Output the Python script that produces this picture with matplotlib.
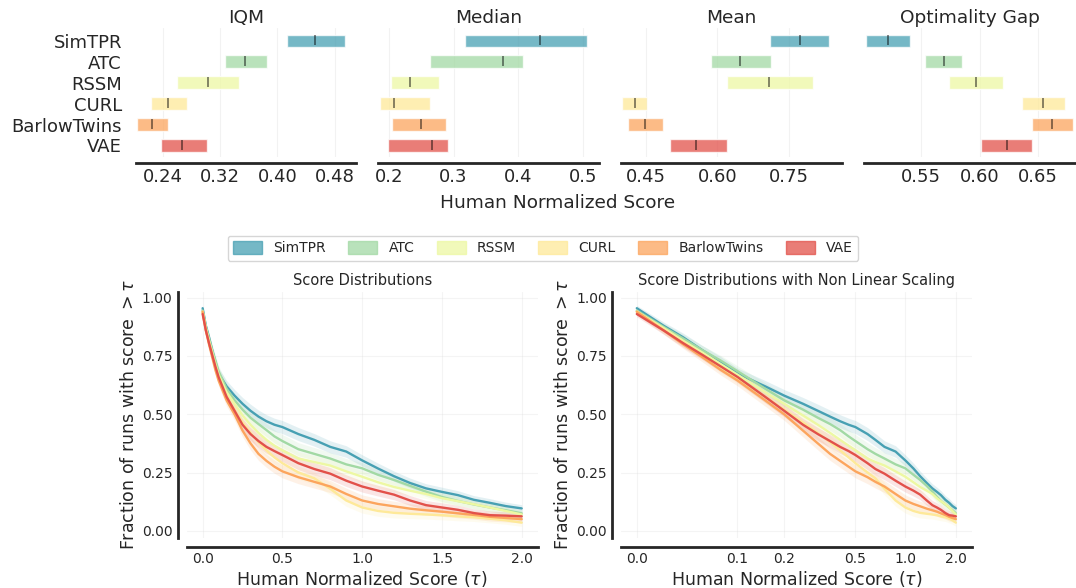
import numpy as np
import matplotlib
matplotlib.use("Agg")
import matplotlib.pyplot as plt
import matplotlib.patches as mpatches
from matplotlib.ticker import FormatStrFormatter
import seaborn as sns

sns.set_style("white")
plt.rcParams['font.family'] = ['DejaVu Sans']

algos = ['SimTPR', 'ATC', 'RSSM', 'CURL', 'BarlowTwins', 'VAE']
colors = sns.color_palette('Spectral', 6)[::-1]

# interval estimates (lower, upper, point)
iqm_lo = [0.413, 0.327, 0.260, 0.223, 0.203, 0.237]
iqm_hi = [0.494, 0.385, 0.346, 0.274, 0.247, 0.302]
iqm_pt = [0.453, 0.354, 0.303, 0.247, 0.225, 0.267]
med_lo = [0.317, 0.263, 0.203, 0.186, 0.205, 0.198]
med_hi = [0.506, 0.408, 0.277, 0.263, 0.288, 0.292]
med_pt = [0.434, 0.376, 0.232, 0.207, 0.249, 0.266]
mean_lo = [0.710, 0.587, 0.620, 0.401, 0.412, 0.501]
mean_hi = [0.834, 0.713, 0.800, 0.453, 0.486, 0.619]
mean_pt = [0.772, 0.647, 0.707, 0.427, 0.449, 0.556]
og_lo = [0.5037, 0.5537, 0.5742, 0.6358, 0.6443, 0.6009]
og_hi = [0.5412, 0.5853, 0.6202, 0.6724, 0.6798, 0.6446]
og_pt = [0.5225, 0.5699, 0.5966, 0.6543, 0.6619, 0.6230]

# score distributions (fraction of runs with score > tau)
tau = [0, 0.02, 0.04, 0.06, 0.08, 0.1, 0.15, 0.2, 0.25, 0.3, 0.35, 0.4, 0.45, 0.5,
       0.6, 0.7, 0.8, 0.9, 1.0, 1.1, 1.2, 1.3, 1.4, 1.5, 1.6, 1.7, 1.8, 1.9, 2.0]
prof_simtpr = [0.955, 0.88, 0.83, 0.775, 0.725, 0.675, 0.62, 0.58, 0.545, 0.515, 0.49, 0.47, 0.455, 0.445,
               0.415, 0.39, 0.36, 0.34, 0.302, 0.267, 0.234, 0.205, 0.182, 0.167, 0.153, 0.133, 0.12, 0.106, 0.096]
prof_atc = [0.945, 0.875, 0.825, 0.775, 0.73, 0.685, 0.61, 0.56, 0.52, 0.485, 0.458, 0.432, 0.405, 0.385,
            0.35, 0.33, 0.31, 0.285, 0.268, 0.24, 0.218, 0.193, 0.168, 0.145, 0.128, 0.113, 0.1, 0.088, 0.075]
prof_rssm = [0.94, 0.87, 0.815, 0.765, 0.715, 0.67, 0.595, 0.545, 0.495, 0.455, 0.42, 0.39, 0.365, 0.345,
             0.31, 0.295, 0.28, 0.255, 0.232, 0.208, 0.188, 0.172, 0.158, 0.14, 0.127, 0.114, 0.1, 0.085, 0.07]
prof_curl = [0.94, 0.865, 0.81, 0.755, 0.7, 0.655, 0.575, 0.52, 0.465, 0.42, 0.38, 0.345, 0.315, 0.29,
             0.25, 0.225, 0.18, 0.13, 0.1, 0.085, 0.077, 0.073, 0.07, 0.067, 0.062, 0.058, 0.052, 0.045, 0.035]
prof_bwt = [0.94, 0.86, 0.8, 0.745, 0.69, 0.645, 0.56, 0.5, 0.43, 0.375, 0.33, 0.3, 0.275, 0.255,
            0.23, 0.21, 0.19, 0.158, 0.13, 0.115, 0.105, 0.095, 0.088, 0.082, 0.075, 0.068, 0.06, 0.055, 0.05]
prof_vae = [0.93, 0.86, 0.805, 0.755, 0.705, 0.66, 0.575, 0.515, 0.455, 0.415, 0.385, 0.36, 0.342, 0.325,
            0.29, 0.265, 0.245, 0.215, 0.19, 0.172, 0.155, 0.13, 0.11, 0.1, 0.09, 0.076, 0.067, 0.065, 0.062]
ci_half = [0.012, 0.016, 0.018, 0.02, 0.022, 0.023, 0.025, 0.026, 0.027, 0.028, 0.028, 0.028, 0.028, 0.028,
           0.028, 0.027, 0.026, 0.025, 0.024, 0.023, 0.022, 0.021, 0.02, 0.02, 0.019, 0.018, 0.018, 0.017, 0.016]
profiles = [prof_simtpr, prof_atc, prof_rssm, prof_curl, prof_bwt, prof_vae]
nl_ticks = [0.0, 0.1, 0.2, 0.5, 1.0, 2.0]

txt = '0.15'
plt.rcParams['text.color'] = txt
plt.rcParams['axes.labelcolor'] = txt
plt.rcParams['xtick.color'] = txt
plt.rcParams['ytick.color'] = txt

fig = plt.figure(figsize=(10.76, 5.88), dpi=100)

panels = [
    ('IQM', iqm_lo, iqm_hi, iqm_pt, (0.202, 0.51), [0.24, 0.32, 0.40, 0.48], '%.2f', 0.1264, 0.2045),
    ('Median', med_lo, med_hi, med_pt, (0.183, 0.525), [0.2, 0.3, 0.4, 0.5], '%.1f', 0.3513, 0.2054),
    ('Mean', mean_lo, mean_hi, mean_pt, (0.398, 0.860), [0.45, 0.60, 0.75], '%.2f', 0.5771, 0.2051),
    ('Optimality Gap', og_lo, og_hi, og_pt, (0.5017, 0.6812), [0.55, 0.60, 0.65], '%.2f', 0.8030, 0.1960),
]

h = 0.6
for k, (title, lo, hi, pt, xl, ticks, fmt, left, width) in enumerate(panels):
    ax = fig.add_axes([left, 0.733, width, 0.219])
    for i in range(len(algos)):
        ax.barh(i, hi[i] - lo[i], height=h, left=lo[i], color=colors[i], alpha=0.75)
        ax.vlines(pt[i], i - 7.5 * h / 16, i + 6 * h / 16, color='k', alpha=0.5, lw=1.3)
    ax.set_xlim(*xl)
    ax.set_ylim(5.55, -0.6)
    ax.set_xticks(ticks)
    ax.xaxis.set_major_formatter(FormatStrFormatter(fmt))
    ax.set_yticks(range(len(algos)))
    if k == 0:
        ax.set_yticklabels(algos, fontsize=13.3)
    else:
        ax.set_yticklabels([])
    ax.set_title(title, fontsize=13.3, pad=4)
    ax.grid(True, axis='x', alpha=0.25)
    ax.spines['right'].set_visible(False)
    ax.spines['top'].set_visible(False)
    ax.spines['left'].set_visible(False)
    ax.spines['bottom'].set_linewidth(2)
    ax.spines['bottom'].set_color(txt)
    ax.spines['bottom'].set_position(('outward', 4.3))
    ax.spines['left'].set_position(('outward', 6.5))
    ax.tick_params(length=0.1, width=0.1, labelsize=13)

fig.text(0.5186, 0.655, 'Human Normalized Score', ha='center', va='center', fontsize=13.3)

handles = [mpatches.Patch(color=colors[i], alpha=0.75, label=algos[i]) for i in range(len(algos))]
fig.legend(handles=handles, ncol=6, loc='center', bbox_to_anchor=(0.5046, 0.578),
           fontsize=10, frameon=True, handlelength=2.1, handleheight=1.0, columnspacing=1.6)

tau_arr = np.array(tau)
prof_arr = np.array(profiles)
ci_arr = np.array(ci_half)
nonlinear_tau = 1 - prof_arr.mean(axis=0)
tick_pos = [nonlinear_tau[tau.index(t)] for t in nl_ticks]

bottom_axes = [
    ('Score Distributions', tau_arr, 0.1735),
    ('Score Distributions with Non Linear Scaling', nonlinear_tau, 0.5770),
]
for j, (title, xs, left) in enumerate(bottom_axes):
    ax = fig.add_axes([left, 0.085, 0.3262, 0.419])
    for i in range(len(algos)):
        ax.fill_between(xs, prof_arr[i] - ci_arr, prof_arr[i] + ci_arr, color=colors[i], alpha=0.15, lw=0)
        ax.plot(xs, prof_arr[i], color=colors[i], lw=1.7)
    ax.set_ylim(-0.031, 1.026)
    ax.set_yticks([0, 0.25, 0.5, 0.75, 1.0])
    ax.yaxis.set_major_formatter(FormatStrFormatter('%.2f'))
    if j == 0:
        ax.set_xlim(-0.1, 2.1)
        ax.set_xticks([0, 0.5, 1.0, 1.5, 2.0])
        ax.xaxis.set_major_formatter(FormatStrFormatter('%.1f'))
    else:
        d = xs[-1] - xs[0]
        ax.set_xlim(xs[0] - 0.05 * d, xs[-1] + 0.05 * d)
        ax.set_xticks(tick_pos)
        ax.set_xticklabels(['%.1f' % t for t in nl_ticks])
    ax.set_title(title, fontsize=10.5, pad=5)
    ax.set_xlabel(r'Human Normalized Score ($\tau$)', fontsize=12.5, labelpad=2)
    ax.set_ylabel(r'Fraction of runs with score $> \tau$', fontsize=12.5, labelpad=3)
    ax.grid(True, alpha=0.2)
    ax.spines['right'].set_visible(False)
    ax.spines['top'].set_visible(False)
    for s in ['left', 'bottom']:
        ax.spines[s].set_linewidth(2)
        ax.spines[s].set_color(txt)
        ax.spines[s].set_position(('outward', 6.5))
    ax.tick_params(length=0.1, width=0.1, labelsize=10)

fig.savefig('out.png', dpi=100)
